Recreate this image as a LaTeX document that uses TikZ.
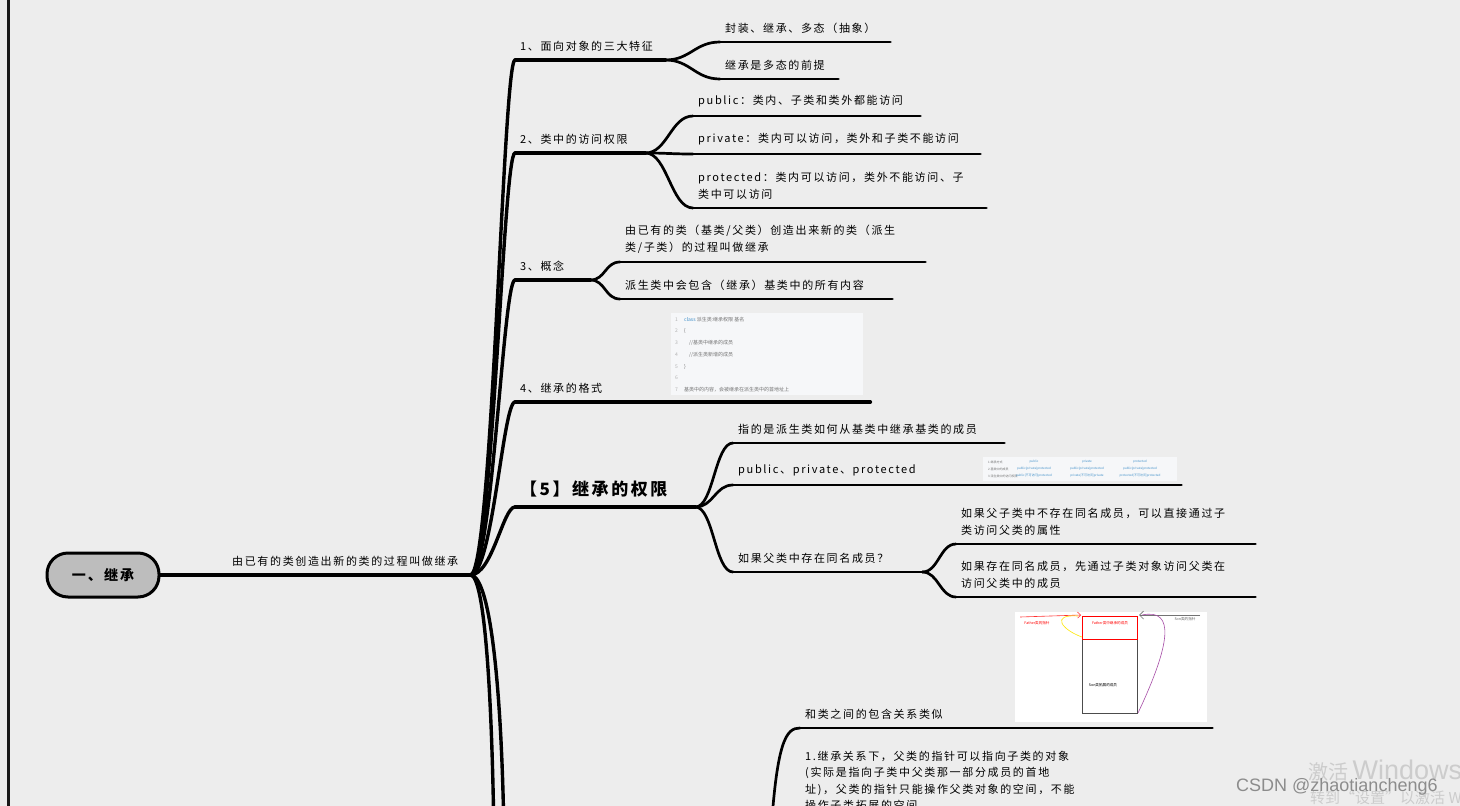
\documentclass[tikz,border=0pt]{standalone}
\usepackage{fontspec}
\setmainfont{Noto Sans CJK SC}
\newfontfamily\cjk{Noto Sans CJK SC}[LetterSpace=15]
\newfontfamily\wmfont{Liberation Sans}
\usetikzlibrary{arrows.meta}
\definecolor{paper}{HTML}{EDEDED}
\definecolor{rootgray}{HTML}{BDBDBD}
\definecolor{shotbg}{HTML}{F6F7F9}
\definecolor{codeblue}{HTML}{3F8FC9}

\begin{document}
\begin{tikzpicture}[x=1pt,y=-1pt,
		wire/.style={line width=3.4pt,line cap=round},
		twig/.style={line width=2.7pt,line cap=round},
		topic/.style={anchor=south west,inner xsep=5pt,inner ysep=8.5pt,align=left,
			font=\cjk\fontsize{11}{16.5}\selectfont},
		root/.style={rectangle,rounded corners=21pt,draw,line width=3pt,fill=rootgray,
			minimum width=112pt,minimum height=44pt,font=\cjk\fontsize{14}{16}\bfseries},
		tiny/.style={anchor=west,inner sep=0pt,text=black!55,font=\fontsize{5}{6}\selectfont},
		cell/.style={inner sep=0pt,text=codeblue,font=\fontsize{3}{4}\selectfont}]
	\useasboundingbox (0,0) rectangle (1460,806);
	\clip (0,0) rectangle (1460,806);
	\fill[paper] (0,0) rectangle (1460,806);
	\draw[line width=3pt,black!90] (8,0) -- (8,806);

	% centre
	\node[root] (root) at (103,575) {一、继承};
	\node[topic,text width=287pt,inner xsep=12pt,align=right] (def) at (159,575) {由已有的类创造出新的类的过程叫做继承};
	\coordinate (hub) at (def.south east);
	\draw[wire] (root.east) -- (def.south east);

	% main branches
	\node[topic,text width=140pt] (b1) at (515,60) {1、面向对象的三大特征};
	\node[topic,text width=120pt] (b2) at (515,153) {2、类中的访问权限};
	\node[topic,text width=65pt] (b3) at (515,280) {3、概念};
	\node[topic,text width=345pt] (b4) at (515,402) {4、继承的格式};
	\node[topic,text width=170pt,inner ysep=10pt,font=\cjk\fontsize{17}{19}\bfseries] (b5) at (515,507) {【5】继承的权限};
	\foreach \b in {b1,b2,b3,b4,b5}{
		\draw[wire] (hub) .. controls +(22,0) and +(-12,0) .. (\b.south west);
		\draw[wire] (\b.south west) -- (\b.south east);
	}
	\coordinate (down1) at (494,840);
	\coordinate (down2) at (504,840);
	\draw[wire] (hub) .. controls +(14,0) and +(-2,-150) .. (down1);
	\draw[wire] (hub) .. controls +(20,0) and +(-2,-150) .. (down2);

	% children
	\node[topic,text width=160pt] (c11) at (720,42) {封装、继承、多态（抽象）};
	\node[topic,text width=108pt] (c12) at (720,79) {继承是多态的前提};
	\node[topic,text width=217pt] (c21) at (693,116) {public：类内、子类和类外都能访问};
	\node[topic,text width=277pt] (c22) at (693,154) {private：类内可以访问，类外和子类不能访问};
	\node[topic,text width=283pt] (c23) at (693,208) {protected：类内可以访问，类外不能访问、子\\类中可以访问};
	\node[topic,text width=295pt] (c31) at (620,262) {由已有的类（基类/父类）创造出来新的类（派生\\类/子类）的过程叫做继承};
	\node[topic,text width=262pt] (c32) at (620,299) {派生类中会包含（继承）基类中的所有内容};
	\node[topic,text width=261pt] (c51) at (733,443) {指的是派生类如何从基类中继承基类的成员};
	\node[topic,text width=438pt] (c52) at (733,485) {public、private、protected};
	\node[topic,text width=179pt] (c53) at (733,572) {如果父类中存在同名成员？};
	\node[topic,text width=289pt] (d1) at (956,544) {如果父子类中不存在同名成员，可以直接通过子\\类访问父类的属性};
	\node[topic,text width=289pt] (d2) at (956,597) {如果存在同名成员，先通过子类对象访问父类在\\访问父类中的成员};
	\foreach \p/\c/\t in {b1/c11/25,b1/c12/25,b2/c21/22,b2/c22/22,b2/c23/22,b3/c31/15,b3/c32/15,
			b5/c51/18,b5/c52/18,b5/c53/18,c53/d1/16,c53/d2/16}{
		\draw[twig] (\p.south east) .. controls +(\t,0) and +(-\t,0) .. (\c.south west);
		\draw[twig] (\c.south west) -- (\c.south east);
	}

	% lower part
	\node[topic,text width=402pt] (e1) at (800,728) {和类之间的包含关系类似};
	\coordinate (up) at (770,850);
	\draw[twig] (up) .. controls +(6,-110) and +(-14,0) .. (e1.south west);
	\draw[twig] (e1.south west) -- (e1.south east);
	\node[topic,anchor=north west,inner ysep=0pt,text width=300pt] (e2) at (800,751)
		{1.继承关系下，父类的指针可以指向子类的对象\\(实际是指向子类中父类那一部分成员的首地\\址)，父类的指针只能操作父类对象的空间，不能\\操作子类拓展的空间};

	% code picture
	\node[fill=shotbg,anchor=north west,inner sep=0pt,minimum width=192pt,minimum height=82pt] (code) at (671,313) {};
	\foreach \k/\ty/\txt in {1/320/{\textcolor{codeblue}{class} 派生类:继承权限 基名},2/331/{\{},3/343/{\quad//基类中继承的成员},
			4/355/{\quad//派生类新增的成员},5/367/{\}},6/378/{},7/390/{基类中的内容，会被继承在派生类中的首地址上}}{
		\node[tiny,text=black!30] (num\k) at (675,\ty) {\k};
		\node[tiny] (line\k) at (684,\ty) {\txt};
	}

	% table picture
	\node[fill=shotbg,anchor=north west,inner sep=0pt,minimum width=194pt,minimum height=24pt] (tbl) at (983,457) {};
	\foreach \r/\ty/\lab/\ca/\cb/\cc in {1/462/继承方式/public/private/protected,
			2/469/基类中的成员/{public|private|protected}/{public|private|protected}/{public|private|protected},
			3/476/派生类中的访问权限/{public|不可访问|protected}/{private|不可访问|private}/{protected|不可访问|protected}}{
		\node[cell,anchor=west,text=black!55] (lab\r) at (988,\ty) {\r\ \lab};
		\node[cell] (ca\r) at (1034,\ty) {\ca};
		\node[cell] (cb\r) at (1087,\ty) {\cb};
		\node[cell] (cc\r) at (1140,\ty) {\cc};
	}

	% memory picture
	\node[fill=white,anchor=north west,inner sep=0pt,minimum width=192pt,minimum height=110pt] (mem) at (1015,612) {};
	\draw[black!70,line width=0.8pt] (1082,616) rectangle (1137,713);
	\draw[red,line width=0.8pt] (1082,616) rectangle (1137,639);
	\node[inner sep=0pt,text=red,font=\fontsize{3.6}{4}\selectfont] (fm) at (1110,623) {Father类中继承的成员};
	\node[inner sep=0pt,font=\fontsize{3.6}{4}\selectfont] (sm) at (1103,685) {Son类拓展的成员};
	\node[inner sep=0pt,text=red,font=\fontsize{3.6}{4}\selectfont] (fp) at (1037,623) {Father类的指针};
	\node[inner sep=0pt,text=black!60,font=\fontsize{3.6}{4}\selectfont] (sp) at (1185,619) {Son类的指针};
	\draw[red!80,line width=0.6pt,-{Straight Barb[length=3pt]}] (1020,617) -- (1081,615);
	\draw[yellow!90!orange,line width=0.6pt] (1082,637) .. controls (1062,630) and (1050,614) .. (1078,616);
	\draw[black!55,line width=0.7pt,-{Straight Barb[length=4pt]}] (1200,615) -- (1139,615);
	\draw[violet!70,line width=0.6pt] (1142,615) .. controls (1176,608) and (1170,645) .. (1138,713);

	% overlays
	\node[anchor=west,inner sep=0pt,text=black!20,font=\fontsize{20}{22}\selectfont] (win) at (1308,771) {激活 {\wmfont\fontsize{27}{28}\selectfont Windows}};
	\node[anchor=west,inner sep=0pt,text=black!20,font=\fontsize{15}{16}\selectfont] (win2) at (1310,798) {转到“设置”以激活 Windows。};
	\node[anchor=west,inner sep=0pt,text=black!45,font=\wmfont\fontsize{18}{19}\selectfont] (csdn) at (1236,787) {CSDN @zhaotiancheng6};
\end{tikzpicture}
\end{document}
